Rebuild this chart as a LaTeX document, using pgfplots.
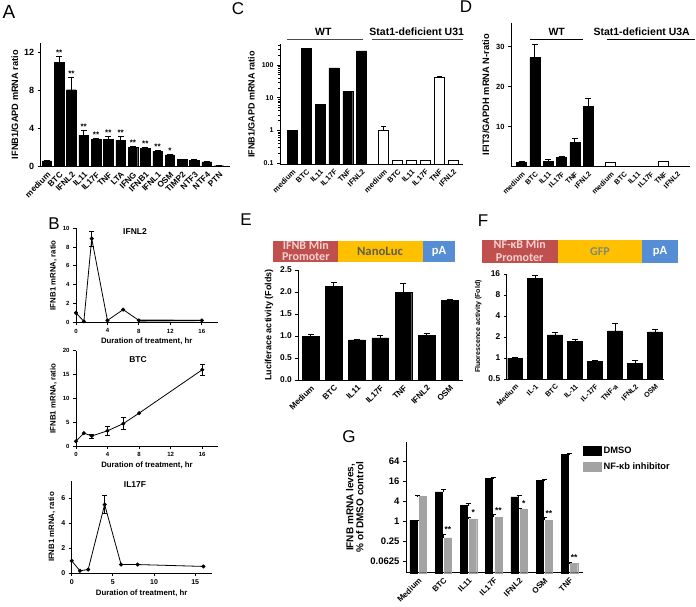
\documentclass[border=0pt]{standalone}
\usepackage{pgfplots}
\pgfplotsset{compat=1.18}
\usepackage{fontspec}
\setmainfont{Liberation Sans}
\newfontfamily\calfont{Carlito}
\definecolor{cred}{HTML}{C0504D}
\definecolor{cyel}{HTML}{FFC000}
\definecolor{cblue}{HTML}{558ED5}
\definecolor{cgray}{HTML}{A3A3A3}
\definecolor{cpink}{HTML}{F4D2D2}
\definecolor{ctxt}{HTML}{5F5F50}
\definecolor{ctxtg}{HTML}{7F8A78}
\newcommand{\fs}[1]{\fontsize{#1}{#1}\selectfont}
\pgfplotsset{
 gp/.style={
  scale only axis, clip=false,
  axis lines=left,
  axis line style={-, line width=1pt},
  tick align=outside,
  major tick length=3pt,
  minor tick length=1.8pt,
  tick style={black, line width=0.8pt},
  /pgf/number format/assume math mode=true,
  tick label style={font=\bfseries\fs{#1}},
  label style={font=\bfseries\fs{#1}},
 },
 barx/.style={xtick=data, x tick style={draw=none}, xticklabel style={rotate=45, anchor=north east, inner sep=1pt, font=\bfseries\fs{#1}}},
 ebar/.style={error bars/.cd, y dir=plus, y explicit,
   error bar style={line width=1pt, black},
   error mark options={rotate=90, mark size=#1, line width=1pt, black}},
 eboth/.style={error bars/.cd, y dir=both, y explicit,
   error bar style={line width=0.8pt, black},
   error mark options={rotate=90, mark size=2.3pt, line width=0.8pt, black}},
 stars/.style={only marks, mark=none, nodes near coords, point meta=explicit symbolic,
   nodes near coords style={font=\bfseries\fs{#1}, anchor=south, inner sep=0.8pt}},
 bline/.style={black, line width=0.8pt, mark=*, mark size=1.6pt, mark options={fill=black}},
 sqlegend/.style={legend image code/.code={\fill[##1] (0pt,-4.5pt) rectangle (18pt,5pt);}},
}
\begin{document}
\begin{tikzpicture}[x=1pt,y=1pt]
\path[use as bounding box] (0,0) rectangle (696,606);

% ---------------- A ----------------
\begin{axis}[gp=9, at={(40.7pt,439.3pt)}, anchor=south west,
  width=189.3pt, height=124pt,
  xmin=-0.5, xmax=14.89, ymin=0, ymax=13.05,
  ytick={0,4,8,12}, barx=8.3,
  xticklabels={medium,BTC,IFNL2,IL11,IL17F,TNF,LTA,IFNG,IFNB1,IFNL1,OSM,TIMP2,NTF3,NTF4,PTN},
  ylabel={IFNB1/GAPD mRNA ratio}, ylabel style={yshift=-1pt, font=\bfseries\fs{9.2}}]
\addplot[ybar, bar width=0.78, fill=black, draw=black, ebar=3pt] coordinates {
 (0,0.6) +- (0,0.05) (1,11.0) +- (0,0.6) (2,8.1) +- (0,1.3) (3,3.3) +- (0,0.5)
 (4,2.9) +- (0,0.1) (5,2.9) +- (0,0.3) (6,2.8) +- (0,0.4) (7,2.0) +- (0,0.15)
 (8,1.9) +- (0,0.1) (9,1.6) +- (0,0.1) (10,1.25) +- (0,0.05) (11,0.75) +- (0,0.03)
 (12,0.7) +- (0,0.03) (13,0.5) +- (0,0.03) (14,0.1) +- (0,0.02)};
\addplot[stars=8] coordinates {(1,11.6)[**] (2,9.4)[**] (3,3.8)[**] (4,3.0)[**] (5,3.2)[**]
 (6,3.2)[**] (7,2.15)[**] (8,2.0)[**] (9,1.7)[**] (10,1.3)[*]};
\end{axis}
\node[font=\fs{19}] at (9,594) {A};

% ---------------- B1 ----------------
\begin{axis}[gp=6, at={(76pt,283.7pt)}, anchor=south west,
  width=141.5pt, height=94pt,
  xmin=0, xmax=18, ymin=0, ymax=10,
  xtick={0,4,8,12,16}, ytick={0,2,4,6,8,10},
  label style={font=\bfseries\fs{7.8}},
  xlabel={Duration of treatment, hr}, ylabel={IFNB1 mRNA, ratio},
  xlabel style={yshift=2pt}, ylabel style={yshift=-1pt}]
\addplot[fill=gray, draw=none, forget plot] coordinates {(8,0.32) (16,0.28) (16,0.12) (8,0.05)} -- cycle;
\addplot[bline, eboth] coordinates {(0,1) (1,0.1) (2,8.9) +- (0,0.8) (4,0.2) (6,1.35) (8,0.2) (16,0.2)};
\end{axis}
\node[font=\bfseries\fs{8.5}] at (135,374) {IFNL2};
\node[font=\fs{17}] at (54,382) {B};

% ---------------- B2 ----------------
\begin{axis}[gp=6, at={(76pt,160pt)}, anchor=south west,
  width=142pt, height=95.3pt,
  xmin=0, xmax=18, ymin=0, ymax=20,
  xtick={0,4,8,12,16}, ytick={0,5,10,15,20},
  label style={font=\bfseries\fs{7.8}},
  xlabel={Duration of treatment, hr}, ylabel={IFNB1 mRNA, ratio},
  xlabel style={yshift=2pt}, ylabel style={yshift=-1pt}]
\addplot[bline, eboth] coordinates {(0,1) (1,2.7) (2,2.1) +- (0,0.4) (4,3.2) +- (0,1.0) (6,4.7) +- (0,1.3) (8,6.9) (16,16) +- (0,1.1)};
\end{axis}
\node[font=\bfseries\fs{8.5}] at (138,246) {BTC};

% ---------------- B3 ----------------
\begin{axis}[gp=7, at={(71.7pt,32.7pt)}, anchor=south west,
  width=140pt, height=92.5pt,
  xmin=0, xmax=17, ymin=0, ymax=7.4,
  xtick={0,5,10,15}, ytick={0,2,4,6},
  label style={font=\bfseries\fs{7.8}},
  xlabel={Duration of treatment, hr}, ylabel={IFNB1 mRNA, ratio},
  xlabel style={yshift=2pt}, ylabel style={yshift=-1pt}]
\addplot[bline, eboth] coordinates {(0,1) (1,0.2) (2,0.3) (4,5.5) +- (0,0.7) (6,0.7) (8,0.7) (16,0.55)};
\end{axis}
\node[font=\bfseries\fs{8.5}] at (135,121) {IL17F};

% ---------------- C ----------------
\begin{axis}[gp=7, at={(280pt,441.7pt)}, anchor=south west,
  width=183pt, height=120pt,
  xmin=-0.89, xmax=12.32, ymode=log, ymin=0.093, ymax=430, log origin=infty,
  ytick={0.1,1,10,100}, yticklabels={0.1,1,10,100},
  minor ytick={0.2,0.3,0.4,0.5,0.6,0.7,0.8,0.9,2,3,4,5,6,7,8,9,20,30,40,50,60,70,80,90,200,300,400},
  xtick={0,1,2,3,4,5,6.6,7.6,8.6,9.6,10.6,11.6}, x tick style={draw=none},
  xticklabel style={rotate=45, anchor=north east, inner sep=1pt, font=\bfseries\fs{7.5}},
  xticklabels={medium,BTC,IL11,IL17F,TNF,IFNL2,medium,BTC,IL11,IL17F,TNF,IFNL2},
  ylabel={IFNB1/GAPD mRNA ratio}, ylabel style={font=\bfseries\fs{9}}]
\addplot[ybar, bar width=0.72, fill=black, draw=black] coordinates {(0,1) (1,330) (2,6.3) (3,82) (4,15.5) (5,270)};
\addplot[ybar, bar width=0.72, fill=white, draw=black, line width=1pt, ebar=2.5pt] coordinates {
 (6.6,1) +- (0,0.3) (7.6,0.12) +- (0,0) (8.6,0.12) +- (0,0) (9.6,0.12) +- (0,0) (10.6,41) +- (0,2.5) (11.6,0.12) +- (0,0)};
\end{axis}
\node[font=\bfseries\fs{10.5}] at (323.3,574.3) {WT};
\draw[gray!60!black, line width=0.6pt] (286.7,566.7) -- (363.3,566.7);
\node[font=\bfseries\fs{10.5}] at (416.7,574.3) {Stat1-deficient U31};
\draw[gray!60!black, line width=0.6pt] (371.7,566.7) -- (463,566.7);
\node[font=\fs{17}] at (238,597) {C};

% ---------------- D ----------------
\begin{axis}[gp=7.5, at={(511pt,439.3pt)}, anchor=south west,
  width=179pt, height=143.7pt,
  xmin=-0.8, xmax=12.66, ymin=0, ymax=35.9,
  ytick={10,20,30},
  xtick={0,1,2,3,4,5,6.7,7.7,8.7,9.7,10.7,11.7}, x tick style={draw=none},
  xticklabel style={rotate=45, anchor=north east, inner sep=1pt, font=\bfseries\fs{7.2}},
  xticklabels={medium,BTC,IL11,IL17F,TNF,IFNL2,medium,BTC,IL11,IL17F,TNF,IFNL2},
  ylabel={IFIT3/GAPDH mRNA N-ratio}, ylabel style={font=\bfseries\fs{9.3}}]
\addplot[ybar, bar width=0.75, fill=black, draw=black, ebar=3pt] coordinates {
 (0,1.0) +- (0,0.2) (1,27.3) +- (0,3.2) (2,1.3) +- (0,0.5) (3,2.3) +- (0,0.3) (4,6.0) +- (0,1.1) (5,15.1) +- (0,1.9)};
\addplot[ybar, bar width=0.75, fill=white, draw=black, line width=1pt] coordinates {
 (6.7,1.0) (7.7,0.1) (8.7,0.1) (9.7,0.1) (10.7,1.3) (11.7,0.1)};
\end{axis}
\node[font=\bfseries\fs{10.5}] at (556.7,574.3) {WT};
\draw[black, line width=0.8pt] (530,566.7) -- (583.3,566.7);
\node[font=\bfseries\fs{10.5}] at (641.7,574.3) {Stat1-deficient U3A};
\draw[black, line width=0.8pt] (606.7,566.7) -- (695,566.7);
\node[font=\fs{17}] at (466,599) {D};

% ---------------- E ----------------
\fill[cred] (273.3,344.3) rectangle (338.3,365);
\fill[cyel] (338.3,344.3) rectangle (422.7,365);
\fill[cblue] (422.7,344.3) rectangle (455,365);
\begin{scope}
\clip (273.3,344.3) rectangle (338.3,365);
\node[font=\calfont\bfseries\fs{12}, text=cpink, anchor=base, inner sep=0pt] at (305.8,356.3) {IFNB Min};
\node[font=\calfont\bfseries\fs{12}, text=cpink, anchor=base, inner sep=0pt] at (305.8,345.2) {Promoter};
\end{scope}
\node[font=\calfont\bfseries\fs{12.7}, text=ctxt] at (380,354.3) {NanoLuc};
\node[font=\calfont\bfseries\fs{12.5}, text=white] at (439,354.3) {pA};
\begin{axis}[gp=8.4, at={(298.3pt,226pt)}, anchor=south west,
  width=164.7pt, height=110pt,
  xmin=-0.53, xmax=6.57, ymin=0, ymax=2.5,
  ytick={0,0.5,1,1.5,2,2.5},
  yticklabel style={/pgf/number format/.cd, fixed, fixed zerofill, precision=1},
  barx=8.2,
  xticklabels={Medium,BTC,IL11,IL17F,TNF,IFNL2,OSM},
  ylabel={Luciferace activity (Folds)}, ylabel style={font=\bfseries\fs{9}}]
\addplot[ybar, bar width=0.72, fill=black, draw=black, ebar=3pt] coordinates {
 (0,1.0) +- (0,0.04) (1,2.13) +- (0,0.09) (2,0.91) +- (0,0.01) (3,0.96) +- (0,0.06)
 (4,2.0) +- (0,0.2) (5,1.02) +- (0,0.04) (6,1.81) +- (0,0.01)};
\end{axis}
\node[font=\fs{17}] at (246,386) {E};

% ---------------- F ----------------
\fill[cred] (481.7,343.3) rectangle (557.7,366);
\fill[cyel] (557.7,343.3) rectangle (641.7,366);
\fill[cblue] (641.7,343.3) rectangle (678.3,366);
\begin{scope}
\clip (481.7,343.3) rectangle (557.7,366);
\node[font=\calfont\bfseries\fs{12}, text=cpink, anchor=base, inner sep=0pt] at (519.7,357) {NF-κB Min};
\node[font=\calfont\bfseries\fs{12}, text=cpink, anchor=base, inner sep=0pt] at (519.7,344.5) {Promoter};
\end{scope}
\node[font=\calfont\bfseries\fs{12}, text=ctxtg] at (600,354.3) {GFP};
\node[font=\calfont\bfseries\fs{12.5}, text=white] at (660,354.3) {pA};
\begin{axis}[gp=8.4, at={(506.7pt,227pt)}, anchor=south west,
  width=157.3pt, height=105pt,
  xmin=-0.42, xmax=7.45, ymode=log, log basis y=2, ymin=0.5, ymax=16, log origin=infty,
  ytick={0.5,1,2,4,8,16}, yticklabels={0.5,1,2,4,8,16},
  barx=7.2,
  xticklabels={Medium,IL-1,BTC,IL-11,IL-17F,TNF-a,IFNL2,OSM},
  ylabel={Fluorescence activity (Fold)}, ylabel style={font=\bfseries\fs{7}}]
\addplot[ybar, bar width=0.74, fill=black, draw=black, ebar=3pt] coordinates {
 (0,1.0) +- (0,0.02) (1,13.8) +- (0,1.2) (2,2.15) +- (0,0.17) (3,1.72) +- (0,0.15)
 (4,0.9) +- (0,0.02) (5,2.44) +- (0,0.7) (6,0.84) +- (0,0.07) (7,2.36) +- (0,0.24)};
\end{axis}
\node[font=\fs{17}] at (483,385) {F};

% ---------------- G ----------------
\begin{axis}[gp=9.5, at={(406pt,33.3pt)}, anchor=south west,
  width=177pt, height=130.8pt,
  xmin=-0.475, xmax=6.535, ymode=log, log basis y=4, ymin=0.029, ymax=240, log origin=infty,
  ytick={0.0625,0.25,1,4,16,64}, yticklabels={0.0625,0.25,1,4,16,64},
  barx=8,
  xticklabels={Medium,BTC,IL11,IL17F,IFNL2,OSM,TNF},
  ylabel={IFNB mRNA leves,\\\% of DMSO control}, ylabel style={align=center, font=\bfseries\fs{10}},
  legend style={at={(1.0,0.98)}, anchor=north west, draw=none, fill=none,
    font=\bfseries\fs{9.3}, row sep=4pt, inner sep=0pt},
  legend cell align=left, sqlegend]
\addplot[ybar, bar width=0.28, bar shift=-0.185, fill=black, draw=black, ebar=2.5pt] coordinates {
 (0,1.05) +- (0,0.02) (1,7.6) +- (0,1.7) (2,2.95) +- (0,0.6) (3,19) +- (0,1.2)
 (4,5.4) +- (0,0.6) (5,16.8) +- (0,0.8) (6,104) +- (0,2)};
\addlegendentry{DMSO}
\addplot[ybar, bar width=0.28, bar shift=0.185, fill=cgray, draw=cgray, ebar=2.5pt] coordinates {
 (0,5.6) +- (0,0.2) (1,0.32) +- (0,0.08) (2,1.18) +- (0,0.14) (3,1.35) +- (0,0.25)
 (4,2.35) +- (0,0.15) (5,1.07) +- (0,0.23) (6,0.054) +- (0,0.004)};
\addlegendentry{NF-κb inhibitor}
\addplot[stars=8.5, forget plot] coordinates {(1.185,0.42)[**] (2.185,1.36)[*] (3.185,1.65)[**]
 (4.185,2.55)[*] (5.185,1.35)[**] (6.185,0.062)[**]};
\end{axis}
\node[font=\fs{17}] at (349,169.5) {G};
\end{tikzpicture}
\end{document}
